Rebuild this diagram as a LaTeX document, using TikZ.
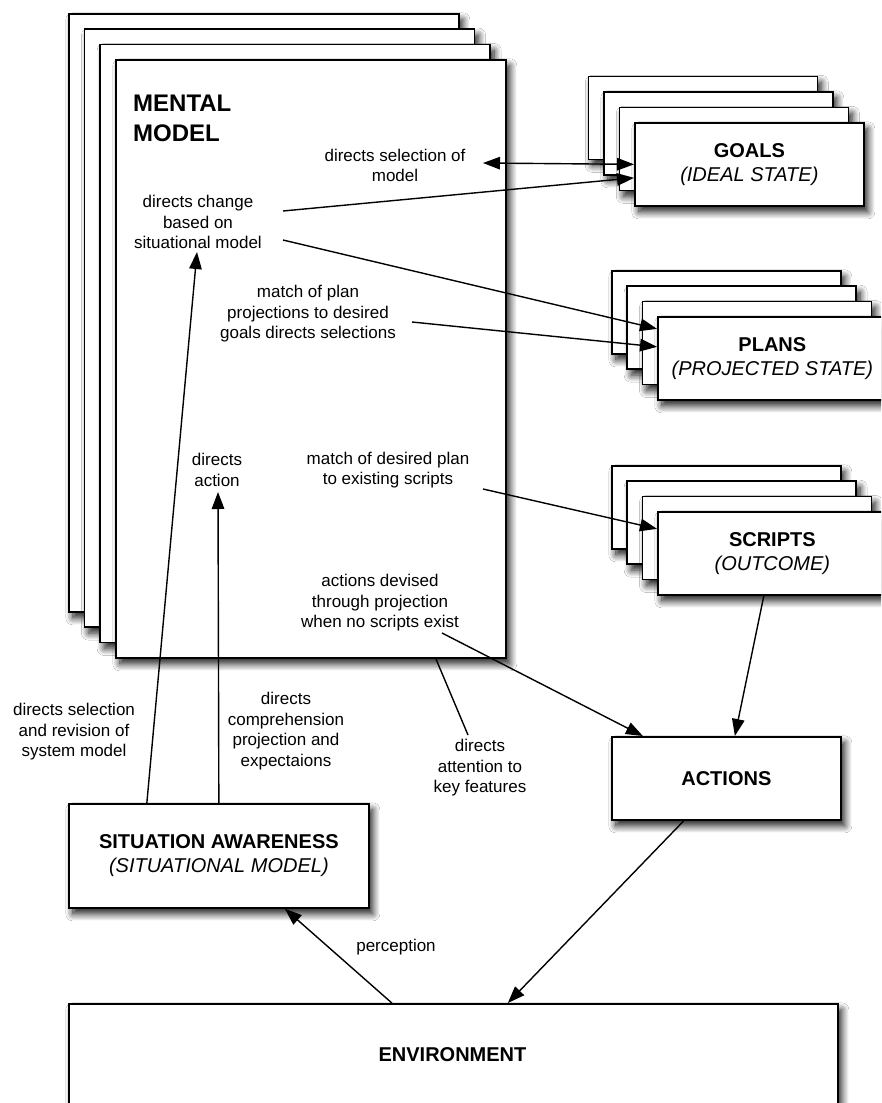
\documentclass[tikz,border=0pt]{standalone}
\usepackage{fontspec}
\setmainfont{Liberation Sans}
\usetikzlibrary{arrows.meta,shadows.blur}
\begin{document}
\begin{tikzpicture}[x=1pt,y=-1pt,
  tip/.style={-{Triangle[length=17pt,width=12.5pt]}},
  tips/.style={{Triangle[length=17pt,width=12.5pt]}-{Triangle[length=17pt,width=12.5pt]}},
  sheet/.style={draw=black, line width=1.7pt, fill=white, anchor=north west, inner sep=0pt,
    blur shadow={shadow xshift=4pt, shadow yshift=-6pt, shadow blur radius=7pt,
                 shadow blur steps=14, shadow opacity=90}},
  page/.style={sheet, minimum width=390pt, minimum height=598pt},
  card/.style={sheet, minimum width=229pt, minimum height=83pt, align=center,
    font=\fontsize{20}{24}\selectfont},
  lbl/.style={font=\fontsize{17}{20.5}\selectfont, align=center, inner sep=1pt},
  conn/.style={line width=1.4pt, draw=black}
]
\path[use as bounding box, clip] (0,0) rectangle (881,1103);
\fill[white] (0,0) rectangle (881,1103);

% mental model: a pile of four sheets
\foreach \k in {0,1,2}
  \node[page] (mm\k) at (68+15.67*\k, 13+15.33*\k) {};
\node[page] (mental) at (115,59) {};
\node[anchor=west, align=left, inner sep=0pt,
      font=\fontsize{24}{30}\selectfont\bfseries] (mmtitle) at (133,118.6) {MENTAL\\MODEL};

% goals stack
\foreach \k in {0,1,2}
  \node[card] (g\k) at (587.5+15.5*\k, 75.5+15.5*\k) {};
\node[card] (goals) at (634,122) {{\bfseries GOALS}\\{\itshape (IDEAL STATE)}};

% plans stack
\foreach \k in {0,1,2}
  \node[card] (p\k) at (611+15.33*\k, 270+15.33*\k) {};
\node[card] (plans) at (657,316) {{\bfseries PLANS}\\{\itshape (PROJECTED STATE)}};

% scripts stack
\foreach \k in {0,1,2}
  \node[card] (s\k) at (611+15.33*\k, 465+15.33*\k) {};
\node[card] (scripts) at (657,511) {{\bfseries SCRIPTS}\\{\itshape (OUTCOME)}};

% single boxes
\node[card] (actions) at (611,736) {\bfseries ACTIONS};
\node[sheet, minimum width=300pt, minimum height=104pt, align=center,
      font=\fontsize{20}{24}\selectfont] (sa) at (68,803)
      {{\bfseries SITUATION AWARENESS}\\{\itshape (SITUATIONAL MODEL)}};
\node[sheet, minimum width=769pt, minimum height=110pt] (env) at (68,1003) {};
\node[font=\fontsize{20}{24}\selectfont\bfseries] (envtxt) at (452.5,1055) {ENVIRONMENT};

% labels
\node[lbl] (lsel) at (395,165.5) {directs selection of\\model};
\node[lbl] (lchg) at (198,222) {directs change\\based on\\situational model};
\node[lbl] (lproj) at (308,314) {match of plan\\projections to desired\\goals directs selections};
\node[lbl] (lact) at (217,470) {directs\\action};
\node[lbl] (lscr) at (388,470) {match of desired plan\\to existing scripts};
\node[lbl] (ldev) at (380,603) {actions devised\\through projection\\when no scripts exist};
\node[lbl] (lrev) at (74,732) {directs selection\\and revision of\\system model};
\node[lbl] (lcomp) at (286,731) {directs\\comprehension\\projection and\\expectaions};
\node[lbl] (latt) at (480,768) {directs\\attention to\\key features};
\node[lbl] (lperc) at (396,947) {perception};

% free connector ends beside the labels
\coordinate (selL) at (483,163);
\coordinate (chgA) at (283,211);
\coordinate (chgB) at (283,240);
\coordinate (projA) at (412,322);
\coordinate (scrA) at (483,489);
\coordinate (devA) at (442,633);
\coordinate (chgTip) at (197,252);
\coordinate (actTip) at (218,492);
\coordinate (attEnd) at (468,735);

% connectors
\draw[conn,tips] (selL) -- (goals.west);
\draw[conn,tip] (chgA) -- ([yshift=-13.5pt]goals.west);
\draw[conn,tip] (chgB) -- ([yshift=29.5pt]plans.west);
\draw[conn,tip] (projA) -- ([yshift=11.5pt]plans.west);
\draw[conn,tip] (scrA) -- ([yshift=24.5pt]scripts.west);
\draw[conn,tip] (devA) -- ([xshift=-83.5pt]actions.north);
\draw[conn,tip] ([xshift=-8.5pt]scripts.south) -- ([xshift=8.5pt]actions.north);
\draw[conn,tip] ([xshift=-42.5pt]actions.south) -- ([xshift=54.5pt]env.north);
\draw[conn,tip] ([xshift=-61.5pt]env.north) -- ([xshift=66pt]sa.south);
\draw[conn,tip] ([xshift=-72pt]sa.north) -- (chgTip);
\draw[conn,tip] (sa.north) -- (actTip);
\draw[conn] ([xshift=125pt]mental.south) -- (attEnd);
\end{tikzpicture}
\end{document}
